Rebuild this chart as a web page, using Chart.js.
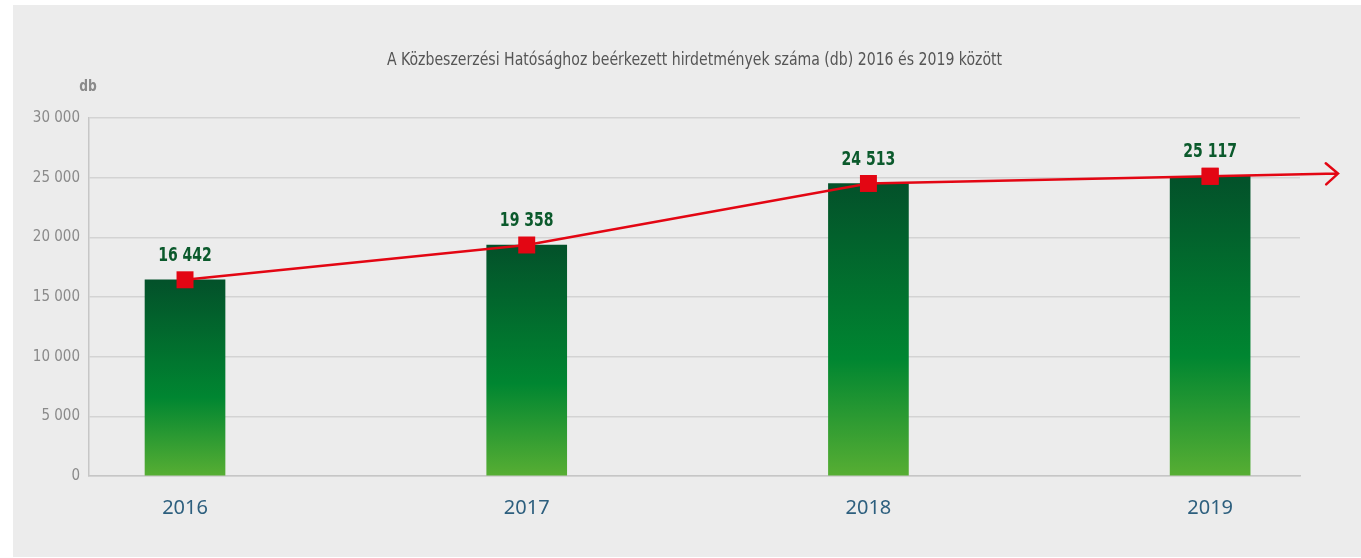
<!DOCTYPE html>
<html lang="hu">
<head>
    <meta charset="UTF-8">
    <title>Hirdetmények száma 2016–2019</title>
    <script src="https://cdn.jsdelivr.net/npm/chart.js"></script>
    <style>
        html, body {
            margin: 0;
            padding: 0;
            background: #ffffff;
        }
        #wrap {
            width: 1361px;
            height: 558px;
        }
    </style>
</head>
<body>
    <div id="wrap">
        <canvas id="chart" width="1361" height="558"></canvas>
    </div>

    <script>
        const years = ['2016', '2017', '2018', '2019'];
        const counts = [16442, 19358, 24513, 25117];
        const yTicks = [0, 5000, 10000, 15000, 20000, 25000, 30000];
        const titleText = 'A Közbeszerzési Hatósághoz beérkezett hirdetmények száma (db) 2016 és 2019 között';
        const unitText = 'db';

        const RED = '#e30613';
        const LABEL_GREEN = '#0b5a2c';
        const narrow = '"DejaVu Sans Condensed", "Liberation Sans Narrow", "Noto Sans", sans-serif';

        // 12 000 style numbers
        function fmt(n) {
            return String(n).replace(/\B(?=(\d{3})+(?!\d))/g, ' ');
        }

        // text squeezed horizontally, centred on x
        function narrowText(ctx, text, x, y, sx) {
            ctx.save();
            ctx.translate(x, y);
            ctx.scale(sx, 1);
            ctx.textAlign = 'center';
            ctx.textBaseline = 'middle';
            ctx.fillText(text, 0, 0);
            ctx.restore();
        }

        const points = counts.map((v, i) => ({ x: i, y: v }));

        // vertical gradient per bar, dark on top, light at the base
        function barGradient(context) {
            const chart = context.chart;
            const yScale = chart.scales.y;
            const raw = context.raw;
            if (!yScale || !raw || !chart.chartArea) return '#008631';
            const top = yScale.getPixelForValue(raw.y);
            const base = yScale.getPixelForValue(0);
            const g = chart.ctx.createLinearGradient(0, top, 0, base);
            g.addColorStop(0, '#03512a');
            g.addColorStop(0.6, '#008631');
            g.addColorStop(1, '#57ae33');
            return g;
        }

        const decorations = {
            id: 'decorations',
            beforeDraw(chart) {
                const ctx = chart.ctx;
                ctx.save();
                ctx.fillStyle = '#ffffff';
                ctx.fillRect(0, 0, chart.width, chart.height);
                ctx.fillStyle = '#ececec';
                ctx.fillRect(13, 5, chart.width - 13, chart.height - 6);

                const area = chart.chartArea;
                ctx.fillStyle = '#555555';
                ctx.font = '18px ' + narrow;
                narrowText(ctx, titleText, (area.left + area.right) / 2, 60, 0.87);

                ctx.fillStyle = '#8a8a8a';
                ctx.font = 'bold 16px ' + narrow;
                narrowText(ctx, unitText, area.left - 1, 87, 0.85);
                ctx.restore();
            },
            afterDatasetsDraw(chart) {
                const ctx = chart.ctx;
                const pts = chart.getDatasetMeta(1).data;
                const a = pts[pts.length - 2];
                const b = pts[pts.length - 1];

                // trend arrow continuing past the last point
                const tipX = chart.chartArea.right + 38;
                const slope = (b.y - a.y) / (b.x - a.x);
                const tipY = b.y + slope * (tipX - b.x);
                const ang = Math.atan2(tipY - b.y, tipX - b.x);
                const len = 16;
                ctx.save();
                ctx.strokeStyle = RED;
                ctx.lineWidth = 2.5;
                ctx.lineCap = 'round';
                ctx.beginPath();
                ctx.moveTo(b.x, b.y);
                ctx.lineTo(tipX, tipY);
                ctx.moveTo(tipX - len * Math.cos(ang - 0.72), tipY - len * Math.sin(ang - 0.72));
                ctx.lineTo(tipX, tipY);
                ctx.lineTo(tipX - len * Math.cos(ang + 0.72), tipY - len * Math.sin(ang + 0.72));
                ctx.stroke();

                // redraw last marker over the arrow shaft
                const s = 8.5;
                ctx.fillStyle = RED;
                ctx.fillRect(b.x - s, b.y - s, 2 * s, 2 * s);

                // value labels above the markers
                ctx.fillStyle = LABEL_GREEN;
                ctx.font = 'bold 20px ' + narrow;
                pts.forEach((p, i) => {
                    narrowText(ctx, fmt(counts[i]), p.x, p.y - 24, 0.78);
                });
                ctx.restore();
            }
        };

        new Chart(document.getElementById('chart'), {
            data: {
                datasets: [
                    {
                        type: 'bar',
                        data: points,
                        backgroundColor: barGradient,
                        borderWidth: 0,
                        barThickness: 80,
                        order: 1
                    },
                    {
                        type: 'line',
                        data: points,
                        borderColor: RED,
                        borderWidth: 2.5,
                        backgroundColor: RED,
                        pointStyle: 'rect',
                        pointRadius: 12,
                        pointBorderWidth: 0,
                        pointBackgroundColor: RED,
                        tension: 0,
                        fill: false,
                        order: 0
                    }
                ]
            },
            options: {
                responsive: false,
                animation: false,
                events: [],
                layout: {
                    padding: { left: 0, right: 61, top: 118, bottom: 0 }
                },
                plugins: {
                    legend: { display: false },
                    tooltip: { enabled: false },
                    title: { display: false }
                },
                scales: {
                    x: {
                        type: 'linear',
                        offset: false,
                        min: -0.281,
                        max: 3.263,
                        afterBuildTicks(scale) {
                            scale.ticks = years.map((_, i) => ({ value: i }));
                        },
                        afterFit(scale) {
                            scale.height = 82;
                        },
                        grid: { display: false, drawTicks: false, offset: false },
                        border: { display: true, color: '#c6c6c6', width: 1.5 },
                        ticks: {
                            padding: 20,
                            maxRotation: 0,
                            color: '#2d5f7e',
                            font: { family: '"Noto Sans", "Open Sans", sans-serif', size: 20 },
                            callback: (v) => years[v]
                        }
                    },
                    y: {
                        min: 0,
                        max: 30000,
                        afterBuildTicks(scale) {
                            scale.ticks = yTicks.map(v => ({ value: v }));
                        },
                        afterFit(scale) {
                            scale.width = 89;
                        },
                        grid: { color: '#d3d3d3', lineWidth: 1.5, drawTicks: false },
                        border: { display: true, color: '#c6c6c6', width: 1.5 },
                        ticks: {
                            padding: 9,
                            color: '#8a8a8a',
                            font: { family: narrow, size: 15 },
                            callback: (v) => fmt(v)
                        }
                    }
                }
            },
            plugins: [decorations]
        });
    </script>
</body>
</html>
